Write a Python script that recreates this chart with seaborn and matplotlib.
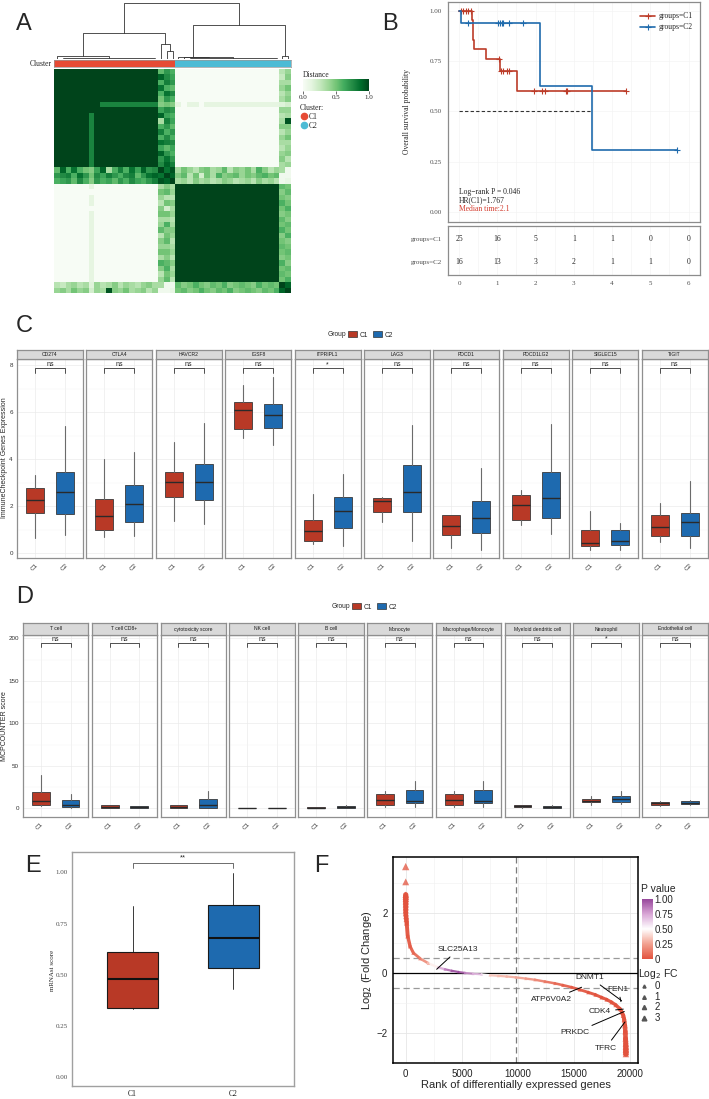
import numpy as np
import matplotlib
matplotlib.use("Agg")
import matplotlib.pyplot as plt
import seaborn as sns
from matplotlib.colors import ListedColormap, LinearSegmentedColormap, Normalize
from matplotlib.collections import LineCollection
from matplotlib.cm import ScalarMappable
from matplotlib.lines import Line2D
from matplotlib.patches import Patch

# ---------------- panel A: consensus matrix, 41 samples ----------------
c1_core = list(range(0, 18))
c2_core = list(range(21, 39))
cluster_of_sample = ["C1"] * 21 + ["C2"] * 20
weak_sample = 6
weak_c1_cols = list(range(8, 18))
weak_c1_value = 0.78
weak_c2_value = 0.12
weak_c2_gaps = [22, 25]
mix_18 = [0.55, 0.9, 0.6, 0.85, 0.6, 0.5, 0.45, 0.65, 0.9, 0.35, 0.6, 0.8, 0.6, 0.85, 0.65, 0.9, 0.7, 0.75,
          1.0, 0.85, 0.95,
          0.35, 0.5, 0.4, 0.3, 0.45, 0.5, 0.35, 0.4, 0.55, 0.3, 0.45, 0.4, 0.5, 0.35, 0.6, 0.45, 0.3, 0.4,
          0.35, 0.05]
mix_19 = [0.7, 0.75, 0.8, 0.6, 0.85, 0.7, 0.5, 0.75, 0.65, 0.8, 0.7, 0.6, 0.75, 0.8, 0.55, 0.7, 0.85, 0.9,
          0.85, 1.0, 0.9,
          0.45, 0.55, 0.3, 0.5, 0.2, 0.5, 0.35, 0.6, 0.45, 0.5, 0.55, 0.4, 0.5, 0.45, 0.55, 0.6, 0.5, 0.55,
          0.05, 0.05]
mix_20 = [0.6, 0.65, 0.7, 0.55, 0.75, 0.6, 0.45, 0.7, 0.6, 0.65, 0.55, 0.7, 0.6, 0.75, 0.65, 0.6, 0.7, 0.8,
          0.95, 0.9, 1.0,
          0.35, 0.4, 0.3, 0.45, 0.35, 0.4, 0.3, 0.35, 0.45, 0.4, 0.3, 0.35, 0.4, 0.3, 0.45, 0.35, 0.4, 0.3,
          0.05, 0.1]
mix_39 = [0.3, 0.25, 0.35, 0.4, 0.3, 0.35, 0.15, 0.4, 0.3, 0.35, 0.45, 0.3, 0.4, 0.35, 0.3, 0.4, 0.45, 0.35,
          0.35, 0.05, 0.05,
          0.55, 0.45, 0.5, 0.6, 0.5, 0.45, 0.55, 0.5, 0.6, 0.45, 0.5, 0.55, 0.5, 0.45, 0.6, 0.5, 0.55, 0.5,
          1.0, 0.9]
mix_40 = [0.4, 0.45, 0.35, 0.5, 0.4, 0.45, 0.2, 0.4, 0.35, 0.95, 0.45, 0.4, 0.5, 0.35, 0.4, 0.45, 0.3, 0.4,
          0.05, 0.05, 0.1,
          0.5, 0.55, 0.45, 0.5, 0.6, 0.5, 0.45, 0.55, 0.5, 0.6, 0.45, 0.5, 0.55, 0.5, 0.45, 0.55, 0.5, 0.6,
          0.9, 1.0]
# tree: leaf index, ('flat', first, last, height) or (left, right, height)
dendro_tree = (((0, ("flat", 1, 17, 0.02), 0.06), (18, (19, 20, 0.15), 0.26), 0.46),
               ((21, (22, ("flat", 23, 38, 0.02), 0.03), 0.04), (39, 40, 0.05), 0.60), 1.0)

# ---------------- panel B: Kaplan-Meier ----------------
km_c1_time = [0, 0.33, 0.37, 0.39, 0.70, 1.06, 1.52, 4.36]
km_c1_surv = [1.0, 0.952, 0.857, 0.81, 0.76, 0.70, 0.60, 0.60]
km_c1_cens = [0.04, 0.10, 0.17, 0.24, 0.30, 1.05, 1.09, 1.15, 1.24, 1.31, 1.96, 2.16, 2.25, 2.79, 2.83, 4.36]
km_c2_time = [0, 0.06, 2.11, 3.47, 5.69]
km_c2_surv = [1.0, 0.94, 0.626, 0.311, 0.311]
km_c2_cens = [0.24, 1.02, 1.07, 1.11, 1.15, 1.30, 1.68, 5.69]
risk_times = [0, 1, 2, 3, 4, 5, 6]
risk_c1 = [25, 16, 5, 1, 1, 0, 0]
risk_c2 = [16, 13, 3, 2, 1, 1, 0]

# ---------------- panel C: immune checkpoints (whislo, q1, med, q3, whishi) ----------------
icp_genes = ["CD274", "CTLA4", "HAVCR2", "IGSF8", "ITPRIPL1", "LAG3", "PDCD1", "PDCD1LG2", "SIGLEC15", "TIGIT"]
icp_c1 = [(0.65, 1.72, 2.25, 2.75, 3.31), (0.68, 0.97, 1.59, 2.30, 4.00), (1.37, 2.38, 3.02, 3.46, 4.71),
          (4.89, 5.27, 6.09, 6.44, 7.15), (0.37, 0.51, 0.92, 1.42, 2.53), (1.32, 1.75, 2.22, 2.35, 2.39),
          (0.23, 0.78, 1.14, 1.60, 1.60), (1.18, 1.39, 2.06, 2.46, 2.70), (0.14, 0.28, 0.44, 0.97, 1.79),
          (0.48, 0.73, 1.11, 1.62, 2.13)]
icp_c2 = [(0.75, 1.66, 2.62, 3.43, 5.41), (0.71, 1.32, 2.10, 2.89, 4.32), (1.25, 2.25, 3.04, 3.78, 5.52),
          (4.60, 5.31, 5.88, 6.33, 7.50), (0.31, 1.05, 1.78, 2.39, 3.36), (0.50, 1.75, 2.60, 3.73, 5.45),
          (0.11, 0.85, 1.51, 2.22, 3.60), (0.82, 1.49, 2.35, 3.43, 5.50), (0.14, 0.33, 0.50, 0.97, 1.28),
          (0.23, 0.73, 1.32, 1.72, 3.07)]
icp_sig = ["ns", "ns", "ns", "ns", "*", "ns", "ns", "ns", "ns", "ns"]

# ---------------- panel D: MCPcounter ----------------
mcp_cells = ["T cell", "T cell CD8+", "cytotoxicity score", "NK cell", "B cell", "Monocyte",
             "Macrophage/Monocyte", "Myeloid dendritic cell", "Neutrophil", "Endothelial cell"]
mcp_c1 = [(2.8, 3.9, 8.7, 19.7, 39.0), (0.4, 0.8, 2.0, 3.5, 4.0), (0.4, 0.8, 2.0, 4.0, 4.0),
          (0.0, 0.0, 0.2, 0.5, 0.8), (0.2, 0.4, 0.8, 1.2, 1.2), (2.0, 3.9, 9.8, 16.5, 20.9),
          (2.0, 3.9, 9.8, 16.5, 20.9), (0.4, 1.2, 2.4, 3.5, 4.3), (4.3, 7.0, 9.0, 10.6, 14.6),
          (2.8, 3.9, 5.9, 7.5, 9.0)]
mcp_c2 = [(0.8, 2.0, 3.9, 9.8, 17.0), (0.0, 0.0, 1.2, 2.8, 2.8), (0.0, 0.8, 3.9, 11.4, 20.5),
          (0.0, 0.0, 0.2, 0.5, 0.8), (0.0, 0.4, 1.6, 2.8, 4.0), (1.2, 5.9, 9.0, 21.7, 32.3),
          (1.2, 5.9, 9.0, 21.7, 32.3), (0.4, 0.8, 1.6, 2.8, 3.5), (5.1, 7.9, 11.4, 14.6, 20.5),
          (3.9, 5.1, 6.7, 8.3, 9.8)]
mcp_sig = ["ns", "ns", "ns", "ns", "ns", "ns", "ns", "ns", "*", "ns"]

# ---------------- panel E: mRNAsi ----------------
mrnasi_c1 = (0.33, 0.338, 0.48, 0.609, 0.836)
mrnasi_c2 = (0.43, 0.534, 0.679, 0.843, 0.998)
mrnasi_sig = "**"

# ---------------- panel F: ranked log2FC ----------------
f_rank = [1, 2, 3, 4, 5, 6, 7, 8, 9, 10, 30, 60, 90, 180, 390, 680, 1280, 2020, 2910, 3500, 4100, 4700,
          5280, 6000, 6770, 7500, 8250, 9000, 9820, 10700, 11510, 12400, 13290, 14000, 14780, 15500,
          16260, 16900, 17450, 17900, 18340, 18700, 19080, 19250, 19380, 19460, 19530, 19560, 19580,
          19600, 19605, 19608, 19610, 19612]
f_lfc = [3.56, 3.05, 2.62, 2.55, 2.48, 2.40, 2.30, 2.20, 2.10, 2.00, 1.90, 1.80, 1.68, 1.24, 0.90, 0.68,
         0.49, 0.33, 0.19, 0.13, 0.08, 0.04, 0.01, -0.02, -0.04, -0.07, -0.09, -0.11, -0.14, -0.18, -0.22,
         -0.28, -0.34, -0.40, -0.47, -0.55, -0.64, -0.72, -0.81, -0.88, -0.97, -1.06, -1.19, -1.30, -1.41,
         -1.55, -1.75, -1.95, -2.19, -2.35, -2.45, -2.55, -2.63, -2.70]
f_pval = [0.0, 0.0, 0.0, 0.0, 0.0, 0.0, 0.0, 0.0, 0.0, 0.0, 0.0, 0.0, 0.0, 0.01, 0.03, 0.06, 0.12, 0.28,
          0.64, 0.82, 0.95, 1.0, 0.88, 0.74, 0.66, 0.36, 0.33, 0.31, 0.28, 0.24, 0.19, 0.13, 0.08, 0.05,
          0.03, 0.02, 0.01, 0.0, 0.0, 0.0, 0.0, 0.0, 0.0, 0.0, 0.0, 0.0, 0.0, 0.0, 0.0, 0.0, 0.0, 0.0,
          0.0, 0.0]
f_genes = ["SLC25A13", "ATP6V0A2", "DNMT1", "FEN1", "CDK4", "PRKDC", "TFRC"]
f_gene_rank = [2760, 15670, 19230, 19170, 19380, 19470, 19530]
f_gene_lfc = [0.13, -0.47, -0.92, -0.95, -1.20, -1.28, -1.63]

# ---------------- style ----------------
RED = "#B83926"
BLUE = "#1E6AAF"
CL_RED = "#E64B35"
CL_BLUE = "#4DBBD5"
SERIF = "Liberation Serif"
SANS = "Liberation Sans"

sns.set_style("white")
plt.rcParams["font.family"] = SANS
plt.rcParams["axes.linewidth"] = 0.8

W, H = 709, 1099
fig = plt.figure(figsize=(W / 100, H / 100), dpi=100)


def add_ax(x0, y0, x1, y1):
    return fig.add_axes([x0 / W, 1 - y1 / H, (x1 - x0) / W, (y1 - y0) / H])


def fig_text(x, y, s, **kw):
    fig.text(x / W, 1 - y / H, s, **kw)


def box_stats(s):
    return dict(whislo=s[0], q1=s[1], med=s[2], q3=s[3], whishi=s[4], fliers=[])


for letter, (lx, ly) in zip("ABCDEF", [(16, 13), (382, 13), (16, 315), (16, 586), (25, 855), (314, 855)]):
    fig_text(lx, ly, letter, fontsize=17, va="top", ha="left", family=SANS)

# ================= A =================
M = np.zeros((41, 41))
for block in (c1_core, c2_core):
    M[np.ix_(block, block)] = 1.0
M[weak_sample, weak_c1_cols] = weak_c1_value
M[weak_c1_cols, weak_sample] = weak_c1_value
weak_c2 = [j for j in c2_core if j not in weak_c2_gaps]
M[weak_sample, weak_c2] = weak_c2_value
M[weak_c2, weak_sample] = weak_c2_value
for idx, row in zip([18, 19, 20, 39, 40], [mix_18, mix_19, mix_20, mix_39, mix_40]):
    M[idx, :] = row
    M[:, idx] = row

ax_hm = add_ax(54, 69, 291, 293)
sns.heatmap(M, ax=ax_hm, cmap="Greens", vmin=0, vmax=1, cbar=False,
            xticklabels=False, yticklabels=False)

ax_bar = add_ax(54, 60, 291, 67)
codes = np.array([[0 if c == "C1" else 1 for c in cluster_of_sample]])
sns.heatmap(codes, ax=ax_bar, cmap=ListedColormap([CL_RED, CL_BLUE]), vmin=0, vmax=1,
            cbar=False, xticklabels=False, yticklabels=False)
for sp in ax_bar.spines.values():
    sp.set_visible(True)
    sp.set_color("#999999")
    sp.set_linewidth(0.5)
fig_text(52, 64, "Cluster", ha="right", va="center", family=SERIF, fontsize=5.5)

ax_den = add_ax(54, 2, 291, 59)


def draw_tree(ax, t):
    if isinstance(t, int):
        return t + 0.5, 0.0
    if t[0] == "flat":
        _, a, b, h = t
        ax.plot([a + 0.5, b + 0.5], [h, h], color="#333333", lw=0.6)
        return (a + b + 1) / 2, h
    left, right, h = t
    xl, hl = draw_tree(ax, left)
    xr, hr = draw_tree(ax, right)
    ax.plot([xl, xl, xr, xr], [hl, h, h, hr], color="#333333", lw=0.6)
    return (xl + xr) / 2, h


draw_tree(ax_den, dendro_tree)
ax_den.set_xlim(0, 41)
ax_den.set_ylim(0, 1.01)
ax_den.axis("off")

cax = add_ax(303, 79, 369, 91)
cb = fig.colorbar(ScalarMappable(Normalize(0, 1), "Greens"), cax=cax, orientation="horizontal")
cb.outline.set_visible(False)
cb.set_ticks([0, 0.5, 1.0])
cb.set_ticklabels(["0.0", "0.5", "1.0"])
cax.tick_params(labelsize=5, length=2, width=0.5, color="#333333", pad=1)
for t in cax.get_xticklabels():
    t.set_family(SERIF)
fig_text(303, 75, "Distance", va="center", family=SERIF, fontsize=5.5)
fig.legend(handles=[Line2D([], [], marker="o", ls="", mfc=c, mec=c, ms=4.5) for c in (CL_RED, CL_BLUE)],
           labels=["C1", "C2"], title="Cluster:", loc="upper left",
           bbox_to_anchor=(300 / W, 1 - 104 / H), frameon=False, borderpad=0, borderaxespad=0,
           prop={"family": SERIF, "size": 5.5}, title_fontproperties={"family": SERIF, "size": 5.5},
           handletextpad=0.1, labelspacing=0.1, handlelength=1.0, alignment="left")

# ================= B =================
axB = add_ax(448, 2, 700, 222)


def step_value(times, surv, t):
    idx = np.searchsorted(times, t, side="right") - 1
    return np.asarray(surv)[idx]


for times, surv, cens, col, lab in [(km_c1_time, km_c1_surv, km_c1_cens, "#BC3C29", "groups=C1"),
                                    (km_c2_time, km_c2_surv, km_c2_cens, "#1F6BAD", "groups=C2")]:
    axB.step(times, surv, where="post", color=col, lw=1.2, label=lab)
    axB.plot(cens, step_value(times, surv, cens), ls="", marker="+", ms=4, mew=0.8, color=col)
axB.hlines(0.5, 0, km_c2_time[3], colors="#333333", linestyles=(0, (3, 2)), lw=0.8)
axB.set_xlim(-0.29, 6.3)
axB.set_ylim(-0.048, 1.043)
axB.set_yticks([0, 0.25, 0.5, 0.75, 1.0])
axB.set_yticklabels(["0.00", "0.25", "0.50", "0.75", "1.00"])
axB.set_xticks(risk_times)
axB.set_xticklabels([])
axB.set_xticks(np.arange(0.5, 6.5, 1), minor=True)
axB.grid(True, which="both", color="#F2F2F2", lw=0.4)
axB.tick_params(labelsize=5, length=2.5, width=0.5, color="#444444", labelcolor="#4D4D4D", pad=2)
axB.tick_params(which="minor", length=0)
for t in axB.get_yticklabels():
    t.set_family(SERIF)
for sp in axB.spines.values():
    sp.set_color("#8C8C8C")
    sp.set_linewidth(0.9)
fig_text(407, 112, "Overall survival probability", rotation=90, ha="center", va="center",
         family=SERIF, fontsize=5.5)
axB.text(0, 0.10, "Log\u2212rank P = 0.046", family=SERIF, fontsize=5.5, va="center")
axB.text(0, 0.06, "HR(C1)=1.767", family=SERIF, fontsize=5.5, va="center")
axB.text(0, 0.015, "Median time:2.1", family=SERIF, fontsize=5.5, va="center", color="#D33A2C")
axB.legend(handles=[Line2D([], [], color=c, lw=1.2, marker="+", ms=4, mew=0.8) for c in ("#BC3C29", "#1F6BAD")],
           labels=["groups=C1", "groups=C2"], loc="upper right", bbox_to_anchor=(1.0, 0.985),
           frameon=False, prop={"family": SERIF, "size": 5.5}, handlelength=2.0,
           handletextpad=0.5, labelspacing=0.4)

axR = add_ax(448, 226, 700, 275)
for row_y, counts in [(2, risk_c1), (1, risk_c2)]:
    for t, n in zip(risk_times, counts):
        axR.text(t, row_y, str(n), ha="center", va="center", family=SERIF, fontsize=5.5)
axR.set_xlim(-0.29, 6.3)
axR.set_ylim(0.435, 2.565)
axR.set_yticks([2, 1])
axR.set_yticklabels(["groups=C1", "groups=C2"])
axR.set_xticks(risk_times)
axR.set_xticks(np.arange(0.5, 6.5, 1), minor=True)
axR.grid(True, axis="x", which="both", color="#F2F2F2", lw=0.4)
axR.tick_params(labelsize=5, length=2.5, width=0.5, color="#444444", labelcolor="#4D4D4D", pad=2)
axR.tick_params(which="minor", length=0)
for t in axR.get_yticklabels() + axR.get_xticklabels():
    t.set_family(SERIF)
for sp in axR.spines.values():
    sp.set_color("#8C8C8C")
    sp.set_linewidth(0.9)


# ================= C and D =================
def facet_row(names, stats1, stats2, sig, x_first, step, width, strip_top, panel_top, panel_bot,
              ylim, ymajor, yminor, ylabels, bracket):
    lo, hi = bracket
    for k, name in enumerate(names):
        x0 = x_first + k * step
        ax = add_ax(x0, panel_top, x0 + width, panel_bot)
        bp = ax.bxp([box_stats(stats1[k]), box_stats(stats2[k])], positions=[1, 2], widths=0.6,
                    patch_artist=True, showfliers=False, showcaps=False, manage_ticks=False,
                    boxprops=dict(linewidth=0.6, edgecolor="#3A3A3A"),
                    whiskerprops=dict(color="#6B6B6B", linewidth=0.8),
                    medianprops=dict(color="#2A2A2A", linewidth=1.0))
        for patch, col in zip(bp["boxes"], [RED, BLUE]):
            patch.set_facecolor(col)
        ax.set_xlim(0.4, 2.6)
        ax.set_ylim(*ylim)
        ax.set_xticks([1, 2])
        ax.set_xticklabels(["C1", "C2"], rotation=45, ha="right", rotation_mode="anchor",
                           fontsize=4.5, color="#333333")
        ax.set_yticks(ymajor)
        ax.set_yticks(yminor, minor=True)
        ax.grid(True, which="major", color="#EBEBEB", lw=0.5)
        ax.grid(True, which="minor", axis="y", color="#F3F3F3", lw=0.3)
        ax.set_axisbelow(True)
        ax.tick_params(length=2, width=0.5, color="#333333", pad=1)
        ax.tick_params(which="minor", length=0)
        if k == 0:
            ax.set_yticklabels(ylabels, fontsize=4.5, color="#333333")
        else:
            ax.tick_params(axis="y", labelleft=False, length=0)
        for sp in ax.spines.values():
            sp.set_color("#8F8F8F")
            sp.set_linewidth(0.9)
        ax.plot([1, 1, 2, 2], [lo, hi, hi, lo], color="#333333", lw=0.6, clip_on=False)
        ax.text(1.5, hi, sig[k], ha="center", va="bottom", fontsize=5, color="#222222")
        sax = add_ax(x0, strip_top, x0 + width, panel_top)
        sax.set_facecolor("#D9D9D9")
        sax.set_xticks([])
        sax.set_yticks([])
        for sp in sax.spines.values():
            sp.set_color("#8F8F8F")
            sp.set_linewidth(0.9)
        sax.text(0.5, 0.5, name, ha="center", va="center", fontsize=3.6, color="#1A1A1A",
                 transform=sax.transAxes)


def group_legend(x, y):
    fig_text(x, y, "Group", ha="left", va="center", fontsize=4.8)
    fig.legend(handles=[Patch(fc=RED, ec="#333333", lw=0.5), Patch(fc=BLUE, ec="#333333", lw=0.5)],
               labels=["C1", "C2"], loc="center left", bbox_to_anchor=((x + 20) / W, 1 - y / H),
               ncol=2, frameon=False, fontsize=4.8, handlelength=1.3, handleheight=1.0,
               handletextpad=0.4, columnspacing=0.8, borderpad=0, borderaxespad=0)


facet_row(icp_genes, icp_c1, icp_c2, icp_sig, 17, 69.4, 66, 350, 359, 558,
          (-0.21, 8.26), [0, 2, 4, 6, 8], [1, 3, 5, 7], ["0", "2", "4", "6", "8"], (7.65, 7.86))
group_legend(328, 335)
fig_text(5, 458, "ImmuneCheckpoint Genes Expression", rotation=90, ha="center", va="center", fontsize=5)

facet_row(mcp_cells, mcp_c1, mcp_c2, mcp_sig, 23, 68.8, 65.4, 623, 635, 817,
          (-10.2, 203.9), [0, 50, 100, 150, 200], [25, 75, 125, 175], ["0", "50", "100", "150", "200"],
          (189.4, 194.8))
group_legend(332, 607)
fig_text(5, 726, "MCPCOUNTER score", rotation=90, ha="center", va="center", fontsize=5)

# ================= E =================
axE = add_ax(72, 852, 294, 1086)
bp = axE.bxp([box_stats(mrnasi_c1), box_stats(mrnasi_c2)], positions=[1, 2], widths=0.5,
             patch_artist=True, showfliers=False, showcaps=False, manage_ticks=False,
             boxprops=dict(linewidth=0.8, edgecolor="#1A1A1A"),
             whiskerprops=dict(color="#1A1A1A", linewidth=0.6),
             medianprops=dict(color="#111111", linewidth=1.5))
for patch, col in zip(bp["boxes"], [RED, BLUE]):
    patch.set_facecolor(col)
axE.set_xlim(0.4, 2.6)
axE.set_ylim(-0.045, 1.1)
axE.set_xticks([1, 2])
axE.set_xticklabels(["C1", "C2"], fontsize=5.5, family=SERIF, color="#1A1A1A")
axE.set_yticks([0, 0.25, 0.5, 0.75, 1.0])
axE.set_yticklabels(["0.00", "0.25", "0.50", "0.75", "1.00"], fontsize=5, family=SERIF, color="#4D4D4D")
axE.tick_params(length=2, width=0.5, color="#555555", pad=1)
for sp in axE.spines.values():
    sp.set_color("#A0A0A0")
    sp.set_linewidth(1.0)
axE.plot([1, 1, 2, 2], [1.02, 1.047, 1.047, 1.02], color="#555555", lw=0.6)
axE.text(1.5, 1.052, mrnasi_sig, ha="center", va="bottom", fontsize=5.5)
fig_text(52, 970, "mRNAsi score", rotation=90, ha="center", va="center", family=SERIF, fontsize=5)

# ================= F =================
axF = add_ax(393, 857, 638, 1063)
pv_cmap = LinearSegmentedColormap.from_list("pv", ["#E2533E", "#F2A08F", "#FFFFFF", "#D9A6D6", "#97479B"])
rank = np.array(f_rank, dtype=float)
lfc = np.array(f_lfc)
pval = np.array(f_pval)
pts = np.column_stack([rank, lfc])[2:]
segs = np.stack([pts[:-1], pts[1:]], axis=1)
seg_p = (pval[2:][:-1] + pval[2:][1:]) / 2
seg_lw = 1.5 + 0.9 * np.abs((lfc[2:][:-1] + lfc[2:][1:]) / 2)
axF.add_collection(LineCollection(segs, colors=pv_cmap(seg_p), linewidths=seg_lw,
                                  capstyle="round", alpha=0.95, zorder=3))
sns.scatterplot(x=rank, y=lfc, hue=pval, hue_norm=(0, 1), palette=pv_cmap, size=np.abs(lfc),
                sizes=(4, 28), size_norm=(0, 3.6), marker="^", linewidth=0, alpha=0.75,
                legend=False, ax=axF, zorder=4)
axF.axhline(0, color="black", lw=0.9, zorder=2)
for yv in (0.5, -0.5):
    axF.axhline(yv, color="#9A9A9A", lw=0.9, ls=(0, (5, 3)), zorder=2)
axF.axvline(rank.max() / 2, color="#7A7A7A", lw=0.9, ls=(0, (5, 3)), zorder=2)
label_pos = [(4690, 0.80), (13000, -0.88), (16400, -0.14), (18930, -0.53), (17300, -1.28),
             (15070, -1.99), (17800, -2.50)]
for g, gx, gy, (tx, ty) in zip(f_genes, f_gene_rank, f_gene_lfc, label_pos):
    axF.annotate(g, xy=(gx, gy), xytext=(tx, ty), ha="center", va="center", fontsize=6,
                 arrowprops=dict(arrowstyle="-", lw=0.7, color="black", shrinkA=1, shrinkB=0),
                 zorder=5)
axF.set_xlim(-1130, 20690)
axF.set_ylim(-2.95, 3.88)
axF.set_xticks([0, 5000, 10000, 15000, 20000])
axF.set_xticks([2500, 7500, 12500, 17500], minor=True)
axF.set_yticks([-2, 0, 2])
axF.set_yticks([-3, -1, 1, 3], minor=True)
axF.grid(True, which="major", color="#E6E6E6", lw=0.6)
axF.grid(True, which="minor", color="#F0F0F0", lw=0.4)
axF.set_axisbelow(True)
axF.tick_params(labelsize=7, length=2.5, width=0.6, color="#333333", labelcolor="#222222", pad=1.5)
axF.tick_params(which="minor", length=0)
axF.set_yticklabels(["\u22122", "0", "2"])
for sp in axF.spines.values():
    sp.set_color("black")
    sp.set_linewidth(1.1)
axF.set_xlabel("Rank of differentially expressed genes", fontsize=8, labelpad=1)
axF.set_ylabel("Log$_2$ (Fold Change)", fontsize=8, labelpad=2)

pcax = add_ax(642, 899, 653, 959)
pcb = fig.colorbar(ScalarMappable(Normalize(0, 1), pv_cmap), cax=pcax)
pcb.outline.set_visible(False)
pcb.set_ticks([0, 0.25, 0.5, 0.75, 1.0])
pcb.set_ticklabels(["0", "0.25", "0.50", "0.75", "1.00"])
pcax.tick_params(labelsize=7, length=0, pad=1)
fig_text(641, 889, "P value", fontsize=7.5, va="center")
fig.legend(handles=[Line2D([], [], marker="^", ls="", color="#555555", ms=m) for m in (2.2, 2.6, 3.0, 3.4)],
           labels=["0", "1", "2", "3"], title="Log$_2$ FC", loc="upper left",
           bbox_to_anchor=(638 / W, 1 - 967 / H), frameon=False, fontsize=7, title_fontsize=7.5,
           handletextpad=0.5, labelspacing=0.05, borderpad=0, borderaxespad=0, handlelength=1.2,
           alignment="left")

fig.savefig("out.png", dpi=100)
